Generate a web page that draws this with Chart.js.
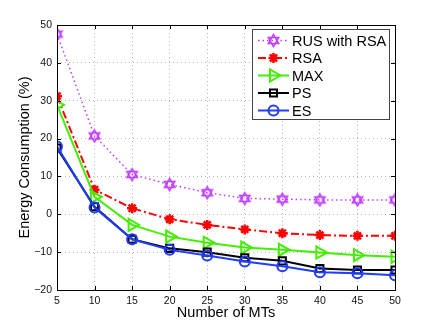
<!DOCTYPE html>
<html>
<head>
<meta charset="utf-8">
<script src="https://cdn.jsdelivr.net/npm/chart.js@4/dist/chart.umd.min.js"></script>
<style>
  html, body { margin: 0; padding: 0; background: #fff; }
  #wrap { width: 436px; height: 327px; position: relative; }
</style>
</head>
<body>
<div id="wrap"><canvas id="chart"></canvas></div>
<script>
// number of MTs
const numMTs = [5, 10, 15, 20, 25, 30, 35, 40, 45, 50];

// energy consumption (%)
const rusWithRsa = [47.6, 20.7, 10.5, 7.9, 5.7, 4.2, 4.0, 3.8, 3.8, 3.8];
const rsaVals = [31.2, 6.5, 1.6, -1.3, -2.8, -4.0, -5.0, -5.5, -5.7, -5.7];
const maxVals = [28.9, 4.6, -2.8, -5.9, -7.5, -8.8, -9.4, -10.1, -10.8, -11.2];
const psVals = [17.5, 2.0, -6.6, -9.0, -10.0, -11.5, -12.3, -14.3, -14.7, -14.7];
const esVals = [17.9, 1.8, -6.6, -9.4, -10.9, -12.5, -13.7, -15.3, -15.6, -16.1];

const seriesNames = ["RUS with RSA", "RSA", "MAX", "PS", "ES"];
const yTicks = [-20, -10, 0, 10, 20, 30, 40, 50];

const FONT = "'Liberation Sans', Arial, Helvetica, sans-serif";

/* hexagram marker (matlab 'h') */
function makeHexagram(color) {
  const c = document.createElement("canvas");
  c.width = 15; c.height = 15;
  const g = c.getContext("2d");
  const r = 6;
  g.strokeStyle = color;
  g.lineWidth = 1.5;
  for (let k = 0; k < 2; k++) {
    g.beginPath();
    for (let i = 0; i < 3; i++) {
      const a = -Math.PI / 2 + k * Math.PI + i * 2 * Math.PI / 3;
      const px = 7.5 + r * Math.cos(a), py = 7.5 + r * Math.sin(a);
      if (i === 0) g.moveTo(px, py); else g.lineTo(px, py);
    }
    g.closePath();
    g.stroke();
  }
  return c;
}

const PURPLE = "#bf3cff";
const RED = "#ff0000";
const GREEN = "#44ee00";
const BLUE = "#1f3cff";
const hexa = makeHexagram(PURPLE);

function pts(vals) {
  return vals.map((v, i) => ({ x: numMTs[i], y: v }));
}

const datasets = [
  { label: seriesNames[0], data: pts(rusWithRsa), borderColor: PURPLE, borderWidth: 1.5,
    borderDash: [1.5, 3], pointStyle: hexa, pointRadius: 6, order: 4 },
  { label: seriesNames[1], data: pts(rsaVals), borderColor: RED, borderWidth: 2,
    borderDash: [8, 3, 2, 3], pointStyle: "star", pointRadius: 5, pointBorderWidth: 2.5, order: 3 },
  { label: seriesNames[2], data: pts(maxVals), borderColor: GREEN, borderWidth: 2,
    pointStyle: "triangle", pointRotation: 90, pointRadius: 7, pointBorderWidth: 2, order: 2 },
  { label: seriesNames[3], data: pts(psVals), borderColor: "#000", borderWidth: 2,
    pointStyle: "rect", pointRadius: 5, pointBorderWidth: 2, order: 1 },
  { label: seriesNames[4], data: pts(esVals), borderColor: BLUE, borderWidth: 2,
    pointStyle: "circle", pointRadius: 5, pointBorderWidth: 2, order: 0 }
];
datasets.forEach(d => {
  d.backgroundColor = "rgba(0,0,0,0)";
  d.pointBorderColor = d.borderColor;
  d.pointBackgroundColor = "rgba(0,0,0,0)";
  d.tension = 0;
  d.fill = false;
});

/* =======================
   FRAME + INNER TICKS + LEGEND
======================= */
const matlabLook = {
  id: "matlabLook",
  afterDraw(chart) {
    const ctx = chart.ctx;
    const a = chart.chartArea;
    const xs = chart.scales.x, ys = chart.scales.y;
    ctx.save();
    ctx.strokeStyle = "#000";
    ctx.lineWidth = 1;
    ctx.strokeRect(Math.round(a.left) + 0.5, Math.round(a.top) + 0.5,
      Math.round(a.right - a.left), Math.round(a.bottom - a.top));
    const tl = 4;
    ctx.beginPath();
    numMTs.forEach(v => {
      const px = Math.round(xs.getPixelForValue(v)) + 0.5;
      ctx.moveTo(px, a.bottom); ctx.lineTo(px, a.bottom - tl);
      ctx.moveTo(px, a.top); ctx.lineTo(px, a.top + tl);
    });
    yTicks.forEach(v => {
      const py = Math.round(ys.getPixelForValue(v)) + 0.5;
      ctx.moveTo(a.left, py); ctx.lineTo(a.left + tl, py);
      ctx.moveTo(a.right, py); ctx.lineTo(a.right - tl, py);
    });
    ctx.stroke();

    // legend
    const bx = 252.5, by = 29.5, bw = 137, bh = 90;
    ctx.fillStyle = "#fff";
    ctx.fillRect(bx, by, bw, bh);
    ctx.strokeStyle = "#444";
    ctx.lineWidth = 1;
    ctx.strokeRect(bx, by, bw, bh);
    ctx.font = "14.5px " + FONT;
    ctx.textBaseline = "middle";
    ctx.textAlign = "left";
    datasets.forEach((d, i) => {
      const yy = 40.5 + i * 17.5;
      ctx.save();
      ctx.strokeStyle = d.borderColor;
      ctx.lineWidth = d.borderWidth;
      ctx.setLineDash(d.borderDash || []);
      ctx.beginPath();
      ctx.moveTo(258, yy); ctx.lineTo(289, yy);
      ctx.stroke();
      ctx.setLineDash([]);
      ctx.fillStyle = "rgba(0,0,0,0)";
      ctx.lineWidth = d.pointBorderWidth || 1.5;
      Chart.helpers.drawPoint(ctx, {
        pointStyle: d.pointStyle, rotation: d.pointRotation || 0,
        radius: d.pointRadius, borderWidth: d.pointBorderWidth || 1.5
      }, 273.5, yy);
      ctx.restore();
      ctx.fillStyle = "#000";
      ctx.fillText(d.label, 292, yy + 1);
    });
    ctx.restore();
  }
};

new Chart(document.getElementById("chart"), {
  type: "line",
  data: { datasets: datasets },
  options: {
    responsive: true,
    maintainAspectRatio: false,
    animation: false,
    layout: { padding: { left: 0, top: 25, right: 41, bottom: 0 } },
    plugins: { legend: { display: false }, tooltip: { enabled: false } },
    scales: {
      x: {
        type: "linear", min: 5, max: 50,
        afterFit: s => { s.height = 37; },
        ticks: { stepSize: 5, color: "#111", padding: 5, font: { family: FONT, size: 10.5 }, maxRotation: 0 },
        grid: { color: "#b8b8b8", drawTicks: false },
        border: { display: false, dash: [1, 3] },
        title: { display: true, text: "Number of MTs", color: "#000",
          font: { family: FONT, size: 14.5 }, padding: { top: 0, bottom: 5 } }
      },
      y: {
        type: "linear", min: -20, max: 50,
        afterFit: s => { s.width = 57; },
        ticks: { stepSize: 10, color: "#111", padding: 5, font: { family: FONT, size: 10.5 },
          callback: v => (v < 0 ? "\u2212" + Math.abs(v) : String(v)) },
        grid: { color: "#b8b8b8", drawTicks: false },
        border: { display: false, dash: [1, 3] },
        title: { display: true, text: "Energy Consumption (%)", color: "#000",
          font: { family: FONT, size: 14.5 }, padding: { top: 16, bottom: 0 } }
      }
    }
  },
  plugins: [matlabLook]
});
</script>
</body>
</html>
